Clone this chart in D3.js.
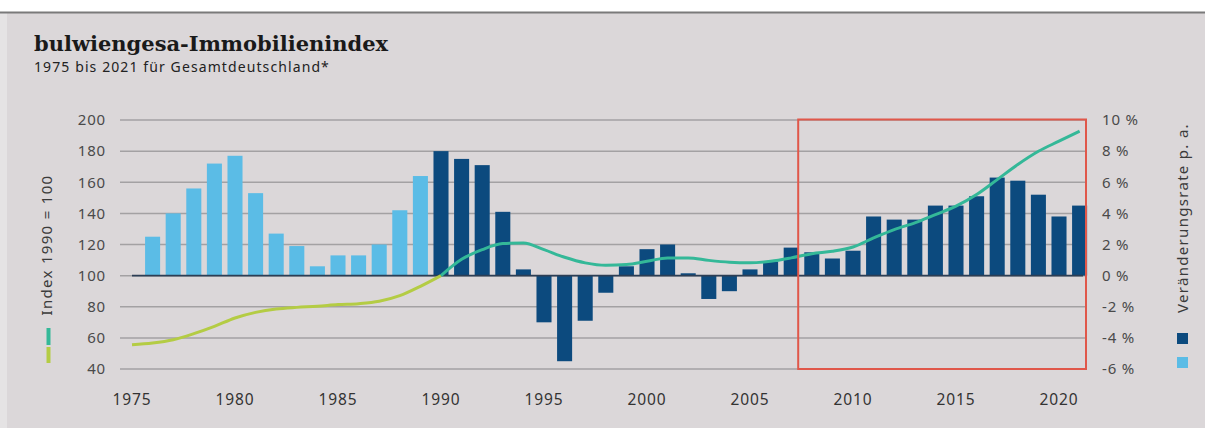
<!DOCTYPE html>
<html><head><meta charset="utf-8">
<script src="https://cdn.jsdelivr.net/npm/d3@7"></script>
<style>body{margin:0;background:#fff;} svg{display:block;}</style>
</head><body>
<svg id="c" width="1205" height="428"></svg>
<script>
const years = [1975,1976,1977,1978,1979,1980,1981,1982,1983,1984,1985,1986,1987,1988,1989,1990,1991,1992,1993,1994,1995,1996,1997,1998,1999,2000,2001,2002,2003,2004,2005,2006,2007,2008,2009,2010,2011,2012,2013,2014,2015,2016,2017,2018,2019,2020,2021];
// annual change in % (null = no bar)
const changeRate = [null,2.5,4.0,5.6,7.2,7.7,5.3,2.7,1.9,0.6,1.3,1.3,2.0,4.2,6.4,8.0,7.5,7.1,4.1,0.4,-3.0,-5.5,-2.9,-1.1,0.6,1.7,2.0,0.15,-1.5,-1.0,0.4,0.9,1.8,1.5,1.1,1.6,3.8,3.6,3.6,4.5,4.5,5.1,6.3,6.1,5.2,3.8,4.5];
// index 1990 = 100
const indexValues = [55.6,56.7,58.8,62.7,67.4,72.8,76.4,78.6,79.6,80.3,81.4,82.0,83.5,87.1,93.1,100,110.5,116.7,120.6,121,116.7,111.8,108.2,106.6,107.1,109.2,111.4,111.4,109.8,108.6,108.2,109.2,111.4,114.1,115.6,118.4,124.2,129.6,133.9,139.2,144.6,152.1,161.7,171.4,179.9,186.4,192.8];
const leftTicks = [40,60,80,100,120,140,160,180,200];
const rightTicks = [-6,-4,-2,0,2,4,6,8,10];
const xTickYears = [1975,1980,1985,1990,1995,2000,2005,2010,2015,2020];
const westEnd = 1989; // last year of light (West) bars

const svg = d3.select("#c");
const W = 1205, H = 428;
const font = "'Noto Sans', 'Open Sans', sans-serif";

// background
svg.append("rect").attr("x",0).attr("y",0).attr("width",W).attr("height",H).attr("fill","#ffffff");
svg.append("rect").attr("x",0).attr("y",13).attr("width",W).attr("height",H-13).attr("fill","#e5e3e4");
svg.append("rect").attr("x",7).attr("y",13).attr("width",W-7).attr("height",H-13).attr("fill","#dbd7d9");
svg.append("line").attr("x1",0).attr("x2",W).attr("y1",12.5).attr("y2",12.5).attr("stroke","#7a7a7a").attr("stroke-width",2);

// title
svg.append("text").attr("x",34).attr("y",51).text("bulwiengesa-Immobilienindex")
  .attr("font-family","'DejaVu Serif', serif").attr("font-weight","bold").attr("font-size",21).attr("fill","#1a1a1a");
svg.append("text").attr("x",34).attr("y",72).text("1975 bis 2021 für Gesamtdeutschland*")
  .attr("font-family",font).attr("font-size",14).attr("letter-spacing",1.1).attr("fill","#222");

// scales
const x = d3.scaleBand().domain(years).range([121.7, 1089.9]).paddingInner(0.27).paddingOuter(0.135);
const cx = d => x(d) + x.bandwidth()/2;
const yL = d3.scaleLinear().domain([40,200]).range([369,120]);
const yR = d3.scaleLinear().domain([-6,10]).range([369,120]);
const gx1 = 120, gx2 = 1086;

// gridlines
svg.append("g").selectAll("line").data(leftTicks).join("line")
  .attr("x1",gx1).attr("x2",gx2).attr("y1",d=>yL(d)).attr("y2",d=>yL(d))
  .attr("stroke","#a3a1a3").attr("stroke-width",1.5);

// bars
const barData = years.map((y,i)=>({year:y, v:changeRate[i]})).filter(d=>d.v!==null);
svg.append("g").selectAll("rect").data(barData).join("rect")
  .attr("x",d=>x(d.year)).attr("width",x.bandwidth())
  .attr("y",d=>yR(Math.max(0,d.v))).attr("height",d=>Math.abs(yR(d.v)-yR(0)))
  .attr("fill",d=>d.year<=westEnd ? "#5bbce6" : "#0c4a7e");

// baseline
svg.append("line").attr("x1",cx(1975)).attr("x2",gx2-3).attr("y1",yR(0)).attr("y2",yR(0))
  .attr("stroke","#2c3e55").attr("stroke-width",1.6);

// index line
const pts = years.map((y,i)=>({year:y, v:indexValues[i]}));
const line = d3.line().x(d=>cx(d.year)).y(d=>yL(d.v)).curve(d3.curveMonotoneX);
svg.append("path").datum(pts.filter(d=>d.year<=1990)).attr("d",line)
  .attr("fill","none").attr("stroke","#b4cc44").attr("stroke-width",3);
svg.append("path").datum(pts.filter(d=>d.year>=1990)).attr("d",line)
  .attr("fill","none").attr("stroke","#34b898").attr("stroke-width",3);

// red highlight box
svg.append("rect").attr("x",cx(2007)+7).attr("y",119.5).attr("width",gx2-(cx(2007)+7)).attr("height",369-119.5)
  .attr("fill","none").attr("stroke","#e0574a").attr("stroke-width",2);

// left axis labels
const axL = d3.axisLeft(yL).tickValues(leftTicks).tickSize(0).tickPadding(0);
const gL = svg.append("g").attr("transform","translate(106,0)").call(axL);
gL.select(".domain").remove();
gL.selectAll("text").attr("font-family",font).attr("font-size",15).attr("letter-spacing",0.8).attr("fill","#4a4a4a");

// right axis labels
const axR = d3.axisRight(yR).tickValues(rightTicks).tickSize(0).tickPadding(0).tickFormat(d=>d+" %");
const gR = svg.append("g").attr("transform","translate(1102,0)").call(axR);
gR.select(".domain").remove();
gR.selectAll("text").attr("font-family",font).attr("font-size",15).attr("letter-spacing",0.8).attr("fill","#4a4a4a");

// x axis labels
const axX = d3.axisBottom(x).tickValues(xTickYears).tickSize(0).tickPadding(0);
const gX = svg.append("g").attr("transform","translate(0,394)").call(axX);
gX.select(".domain").remove();
gX.selectAll("text").attr("font-family",font).attr("font-size",15.5).attr("letter-spacing",0.9).attr("fill","#333").attr("dy","0.71em");

// left axis title + legend
svg.append("text").attr("transform","translate(52,245) rotate(-90)").attr("text-anchor","middle")
  .text("Index 1990 = 100").attr("font-family",font).attr("font-size",15).attr("letter-spacing",1.3).attr("fill","#3a3a3a");
svg.append("line").attr("x1",48.5).attr("x2",48.5).attr("y1",328).attr("y2",345).attr("stroke","#34b898").attr("stroke-width",4);
svg.append("line").attr("x1",48.5).attr("x2",48.5).attr("y1",347).attr("y2",363).attr("stroke","#b4cc44").attr("stroke-width",4);

// right axis title + legend
svg.append("text").attr("transform","translate(1188,218) rotate(-90)").attr("text-anchor","middle")
  .text("Veränderungsrate p. a.").attr("font-family",font).attr("font-size",15).attr("letter-spacing",1.3).attr("fill","#3a3a3a");
svg.append("rect").attr("x",1177).attr("y",333).attr("width",11).attr("height",11).attr("fill","#0c4a7e");
svg.append("rect").attr("x",1177).attr("y",357).attr("width",11).attr("height",11).attr("fill","#5bbce6");
</script>
</body></html>
